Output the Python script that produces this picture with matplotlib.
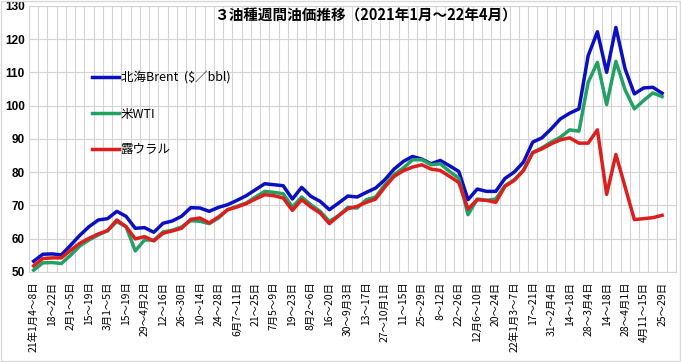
import numpy as np
import matplotlib
matplotlib.use("Agg")
from matplotlib import pyplot as plt
from matplotlib.patches import Rectangle

plt.rcParams['font.family'] = ['Noto Sans CJK JP', 'DejaVu Sans']

# 週ごとのデータ（2021年1月4日週〜2022年4月25日週）
brent = [53.2, 55.3, 55.4, 55.1, 58.0, 61.0, 63.6, 65.6, 66.0, 68.2,
         66.7, 63.1, 63.3, 61.9, 64.6, 65.3, 66.7, 69.3, 69.2, 68.2,
         69.4, 70.2, 71.5, 72.9, 74.7, 76.5, 76.2, 75.9, 71.9, 75.4,
         72.7, 71.2, 68.7, 70.7, 72.8, 72.5, 73.9, 75.2, 77.7, 80.9,
         83.2, 84.7, 83.9, 82.5, 83.5, 81.9, 80.2, 71.7, 74.9, 74.2,
         74.2, 78.1, 80.0, 83.0, 89.0, 90.3, 93.0, 96.0, 97.7, 99.0,
         115.0, 122.2, 110.0, 123.5, 111.0, 103.5, 105.3, 105.5, 103.7]
wti = [50.5, 52.7, 52.8, 52.5, 55.0, 57.8, 59.6, 61.1, 62.4, 65.1,
       63.6, 56.3, 59.6, 59.5, 62.0, 62.5, 63.5, 65.4, 65.2, 64.5,
       66.2, 68.7, 69.7, 70.7, 72.5, 74.2, 73.9, 73.5, 69.5, 72.5,
       70.2, 68.2, 65.2, 66.9, 69.4, 69.2, 71.7, 72.5, 76.2, 79.2,
       81.2, 83.7, 83.7, 82.2, 82.5, 80.2, 78.2, 67.2, 71.9, 71.5,
       71.9, 75.9, 77.7, 80.5, 85.9, 87.3, 89.0, 90.5, 92.7, 92.3,
       107.0, 113.0, 100.3, 113.3, 104.7, 99.0, 101.5, 103.8, 102.7]
urals = [51.8, 54.0, 54.2, 54.2, 56.5, 58.6, 60.1, 61.4, 62.4, 65.6,
         63.6, 59.9, 60.6, 59.3, 61.6, 62.3, 63.1, 65.8, 66.2, 64.7,
         66.5, 68.7, 69.5, 70.5, 71.9, 73.2, 72.9, 72.2, 68.5, 71.7,
         69.5, 67.7, 64.5, 66.9, 69.0, 69.7, 70.9, 71.9, 75.5, 78.7,
         80.4, 81.5, 82.2, 80.9, 80.5, 78.7, 76.9, 68.9, 71.7, 71.5,
         70.9, 75.7, 77.5, 80.5, 85.8, 87.0, 88.5, 89.7, 90.3, 88.7,
         88.7, 92.7, 73.3, 85.3, 75.5, 65.7, 66.0, 66.3, 67.0]

# 2週ごとのラベル
week_labels = ["21年1月4〜8日", "18〜22日", "2月1〜5日", "15〜19日", "3月1〜5日",
               "15〜19日", "29〜4月2日", "12〜16日", "26〜30日", "10〜14日",
               "24〜28日", "6月7〜11日", "21〜25日", "7月5〜9日", "19〜23日",
               "8月2〜6日", "16〜20日", "30〜9月3日", "13〜17日", "27〜10月1日",
               "11〜15日", "25〜29日", "8〜12日", "22〜26日", "12月6〜10日",
               "20〜24日", "22年1月3〜7日", "17〜21日", "31〜2月4日", "14〜18日",
               "28〜3月4日", "14〜18日", "28〜4月1日", "4月11〜15日", "25〜29日"]

x = np.arange(len(brent))

fig = plt.figure(figsize=(6.81, 3.62), dpi=100)
ax = fig.add_axes([0.0426, 0.249, 0.9500, 0.735])

ax.plot(x, brent, color='#0A0FC0', lw=2.5, label='北海Brent  ($／bbl)')
ax.plot(x, wti, color='#23A064', lw=2.5, label='米WTI')
ax.plot(x, urals, color='#DC1E1E', lw=2.5, label='露ウラル')

ax.set_xlim(-0.5, 69.5)
ax.set_ylim(50, 130)
ax.set_yticks(np.arange(50, 131, 10))
ax.set_xticks(x[::2])
ax.set_xticklabels(week_labels, rotation=90, fontsize=7.5, va='top')
ax.set_xticks(np.arange(-0.5, 70, 1), minor=True)
ax.tick_params(axis='x', which='both', length=0, pad=7)
ax.tick_params(axis='y', length=0, pad=3)
for lab in ax.get_yticklabels():
    lab.set_fontfamily('Liberation Sans')
    lab.set_fontweight('bold')
    lab.set_fontsize(8.5)

ax.grid(which='minor', axis='x', color='#D4D4D4', lw=0.8)
ax.grid(which='major', axis='y', color='#D4D4D4', lw=0.8)
ax.set_axisbelow(True)
for s in ax.spines.values():
    s.set_color('#D4D4D4')
    s.set_linewidth(0.8)

ax.legend(loc='upper left', bbox_to_anchor=(0.097, 0.752), frameon=False,
          fontsize=9, handlelength=2.2, handletextpad=0.1, labelspacing=1.82,
          borderpad=0, borderaxespad=0)

fig.text(0.536, 0.958, '３油種週間油価推移（2021年1月～22年4月）',
         ha='center', va='center', fontsize=10.5, fontweight='bold')

fig.patches.append(Rectangle((0.001, 0.002), 0.997, 0.996, transform=fig.transFigure,
                             fill=False, edgecolor='#D9D9D9', lw=1))

fig.savefig('out.png', dpi=100)
